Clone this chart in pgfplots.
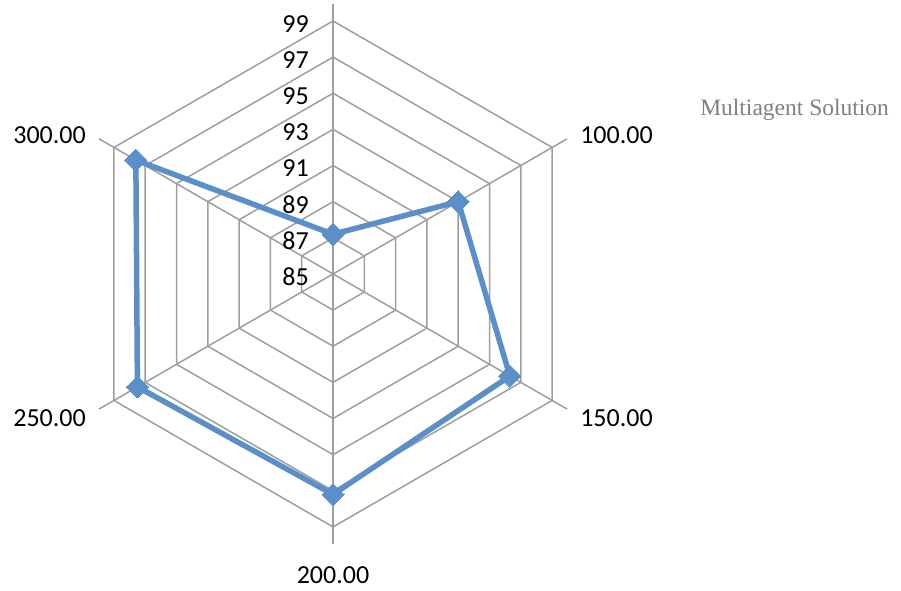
\documentclass[border=0pt]{standalone}
\usepackage{pgfplots}
\pgfplotsset{compat=1.18}
\usepackage{pgfplotstable}
\usepackage{fontspec}
\setmainfont{Carlito}
\newfontfamily\legfont{Liberation Serif}
\definecolor{serblue}{HTML}{5B8FC9}
\definecolor{gridgray}{HTML}{9E9E9E}
\definecolor{leggray}{HTML}{808080}
\pgfplotstableread{
angle value
90 87.2
30 93.0
-30 96.3
-90 97.2
-150 97.5
150 97.6
90 87.2
}\datatable
\begin{document}
\begin{tikzpicture}
\begin{axis}[
  x=18.07pt, y=18.07pt,
  xmin=-18.43, xmax=31.43, ymin=-17.54, ymax=15.16,
  hide axis, clip=false,
]
\path (rel axis cs:0,0) rectangle (rel axis cs:1,1);
% hexagonal grid rings
\foreach \r in {2,4,6,8,10,12,14}{
  \edef\temp{\noexpand\addplot[data cs=polar, gridgray, line width=1.5pt, forget plot] coordinates {(90,\r) (30,\r) (-30,\r) (-90,\r) (-150,\r) (150,\r) (90,\r)};}
  \temp
}
% spokes
\foreach \a in {90,30,-30,-90,-150,150}{
  \edef\temp{\noexpand\addplot[data cs=polar, gridgray, line width=1.5pt, forget plot] coordinates {(\a,0) (\a,14.95)};}
  \temp
}
% data
\addplot[data cs=polar, serblue, line width=5.5pt, line join=round,
  mark=square*, mark size=7.8pt, mark options={rotate=45, solid, fill=serblue, draw=serblue, line width=0pt}]
  table[x=angle, y expr=\thisrow{value}-85] {\datatable};
% tick labels
\foreach \v/\r in {85/0,87/2,89/4,91/6,93/8,95/10,97/12,99/14}{
  \edef\temp{\noexpand\node[anchor=east, inner sep=0pt, font=\noexpand\fontsize{26}{30}\noexpand\selectfont] at (axis cs:-1.33,\r-0.15) {\v};}
  \temp
}
% category labels
\node[anchor=east, inner sep=0pt, font=\fontsize{26}{30}\selectfont] at (axis cs:-13.67,7.69) {300.00};
\node[anchor=east, inner sep=0pt, font=\fontsize{26}{30}\selectfont] at (axis cs:-13.67,-7.97) {250.00};
\node[anchor=west, inner sep=0pt, font=\fontsize{26}{30}\selectfont] at (axis cs:13.67,7.69) {100.00};
\node[anchor=west, inner sep=0pt, font=\fontsize{26}{30}\selectfont] at (axis cs:13.67,-7.97) {150.00};
\node[anchor=center, inner sep=0pt, font=\fontsize{26}{30}\selectfont] at (axis cs:0,-16.66) {200.00};
% legend
\node[anchor=west, inner sep=0pt, text=leggray, font=\legfont\fontsize{23.5}{28}\selectfont] at (axis cs:20.31,9.08) {Multiagent Solution};
\end{axis}
\end{tikzpicture}
\end{document}
